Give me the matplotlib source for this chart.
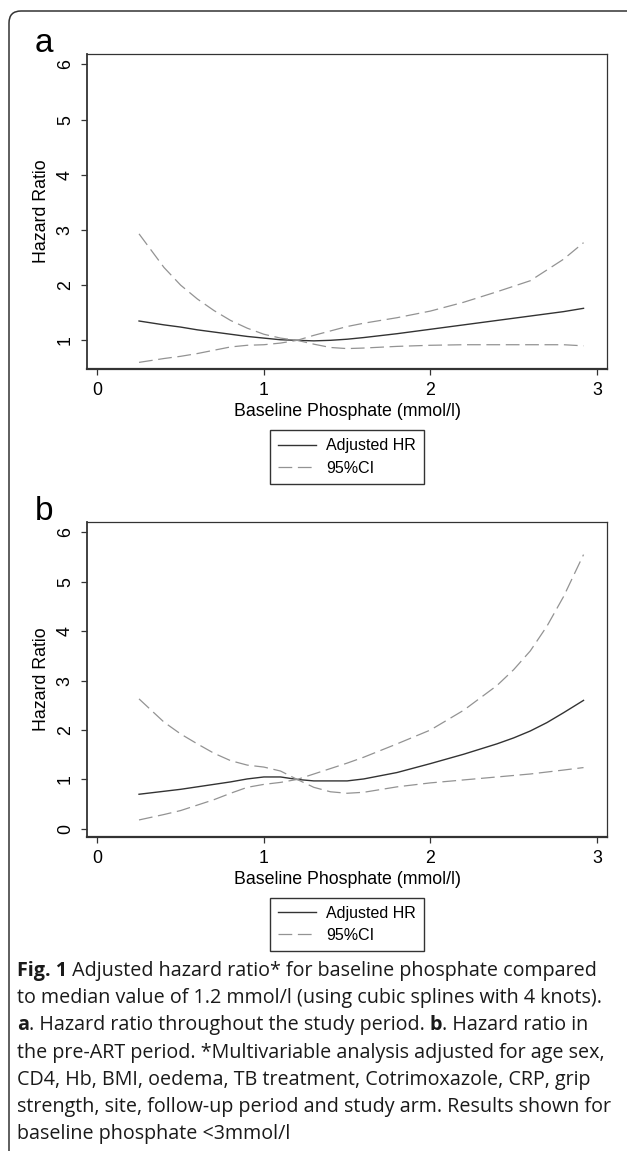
import matplotlib
matplotlib.use("Agg")
import matplotlib.pyplot as plt
from matplotlib.patches import FancyBboxPatch

W, H = 627, 1151

# panel a: whole study period
x_a = [0.25, 0.4, 0.5, 0.6, 0.7, 0.8, 0.9, 1.0, 1.1, 1.2, 1.3, 1.4, 1.5, 1.6,
       1.8, 2.0, 2.2, 2.4, 2.6, 2.8, 2.92]
hr_a = [1.35, 1.28, 1.24, 1.19, 1.15, 1.11, 1.07, 1.04, 1.01, 1.0, 0.99, 1.0,
        1.02, 1.05, 1.12, 1.20, 1.28, 1.36, 1.44, 1.52, 1.58]
ci_a1 = [2.93, 2.32, 2.0, 1.75, 1.54, 1.36, 1.22, 1.11, 1.04, 1.0, 0.93, 0.87,
         0.85, 0.86, 0.89, 0.91, 0.92, 0.92, 0.92, 0.92, 0.90]
ci_a2 = [0.60, 0.67, 0.71, 0.76, 0.82, 0.88, 0.91, 0.92, 0.95, 1.0, 1.09, 1.17,
         1.25, 1.31, 1.41, 1.53, 1.69, 1.88, 2.08, 2.47, 2.77]

# panel b: pre-ART period
x_b = [0.25, 0.4, 0.5, 0.6, 0.7, 0.8, 0.9, 1.0, 1.1, 1.2, 1.3, 1.4, 1.5, 1.6,
       1.8, 2.0, 2.2, 2.4, 2.5, 2.6, 2.7, 2.8, 2.92]
hr_b = [0.70, 0.76, 0.80, 0.85, 0.90, 0.95, 1.01, 1.05, 1.05, 1.0, 0.97, 0.97,
        0.97, 1.01, 1.14, 1.32, 1.51, 1.72, 1.84, 1.98, 2.15, 2.35, 2.60]
ci_b1 = [2.63, 2.16, 1.92, 1.72, 1.53, 1.38, 1.29, 1.25, 1.17, 1.0, 0.84, 0.75,
         0.72, 0.74, 0.85, 0.93, 0.99, 1.05, 1.08, 1.11, 1.15, 1.19, 1.24]
ci_b2 = [0.18, 0.29, 0.37, 0.48, 0.59, 0.72, 0.84, 0.90, 0.94, 1.0, 1.11, 1.22,
         1.33, 1.45, 1.72, 2.0, 2.4, 2.9, 3.22, 3.6, 4.1, 4.7, 5.55]

xticks = [0, 1, 2, 3]
yticks_a = [1, 2, 3, 4, 5, 6]
yticks_b = [0, 1, 2, 3, 4, 5, 6]

font = "Liberation Sans"
fs = 12.8

fig = plt.figure(figsize=(W / 100, H / 100), dpi=100)

# frame: only top and left edges visible
frame = FancyBboxPatch((9, -60), 800, H - 11 + 60,
                       boxstyle="round,pad=0,rounding_size=12",
                       transform=None, fill=False, ec="#333333", lw=1.1)
fig.patches.append(frame)


def panel(top_px, bottom_px, x, hr, c1, c2, ylim, yticks, letter):
    ax = fig.add_axes([87 / W, 1 - bottom_px / H, 520 / W,
                       (bottom_px - top_px) / H])
    ax.plot(x, hr, color="#333333", lw=1.0, label="Adjusted HR")
    ax.plot(x, c1, color="#939393", lw=0.9, dashes=(11, 4.5), label="95%CI")
    ax.plot(x, c2, color="#939393", lw=0.9, dashes=(11, 4.5))
    ax.set_xlim(-0.0625, 3.061)
    ax.set_ylim(*ylim)
    ax.set_xticks(xticks)
    ax.set_yticks(yticks)
    for s in ax.spines.values():
        s.set_color("#333333")
        s.set_linewidth(0.9)
    ax.spines["bottom"].set_linewidth(1.6)
    ax.spines["left"].set_linewidth(1.3)
    ax.tick_params(direction="out", length=4.5, width=0.9, color="#333333",
                   labelsize=fs, pad=5)
    for lab in ax.get_xticklabels() + ax.get_yticklabels():
        lab.set_fontfamily(font)
    for lab in ax.get_yticklabels():
        lab.set_rotation(90)
        lab.set_va("center")
    ax.set_xlabel("Baseline Phosphate (mmol/l)", fontsize=fs, family=font,
                  labelpad=3)
    ax.set_ylabel("Hazard Ratio", fontsize=fs, family=font, labelpad=5)
    leg = ax.legend(loc="upper center", bbox_to_anchor=(0.5, -0.195),
                    borderaxespad=0, frameon=True, fancybox=False,
                    prop={"family": font, "size": 11.5},
                    handlelength=2.4, handletextpad=0.6, borderpad=0.5,
                    labelspacing=0.45)
    leg.get_frame().set_edgecolor("black")
    leg.get_frame().set_linewidth(1.0)
    fig.text(35 / W, 1 - (top_px - 2) / H, letter, fontsize=24, family=font,
             va="baseline", ha="left")
    return ax


panel(54, 369, x_a, hr_a, ci_a1, ci_a2, (0.48, 6.19), yticks_a, "a")
panel(522, 836.5, x_b, hr_b, ci_b1, ci_b2, (-0.155, 6.21), yticks_b, "b")

# caption with bold pieces
cap_font = "Open Sans"
cap_fs = 14.2
cap_lines = [
    [("Fig. 1", "bold"), (" Adjusted hazard ratio* for baseline phosphate compared", "normal")],
    [("to median value of 1.2 mmol/l (using cubic splines with 4 knots).", "normal")],
    [("a", "bold"), (". Hazard ratio throughout the study period. ", "normal"),
     ("b", "bold"), (". Hazard ratio in", "normal")],
    [("the pre-ART period. *Multivariable analysis adjusted for age sex,", "normal")],
    [("CD4, Hb, BMI, oedema, TB treatment, Cotrimoxazole, CRP, grip", "normal")],
    [("strength, site, follow-up period and study arm. Results shown for", "normal")],
    [("baseline phosphate <3mmol/l", "normal")],
]
renderer = fig.canvas.get_renderer()
y0 = 971
step = 27.2
for i, pieces in enumerate(cap_lines):
    xpx = 17
    ypx = y0 + i * step
    for txt, wt in pieces:
        t = fig.text(xpx / W, 1 - ypx / H, txt, fontsize=cap_fs,
                     family=cap_font, weight=wt, va="center", ha="left",
                     color="#1a1a1a")
        bb = t.get_window_extent(renderer)
        xpx += bb.width

fig.savefig("out.png", dpi=100)
